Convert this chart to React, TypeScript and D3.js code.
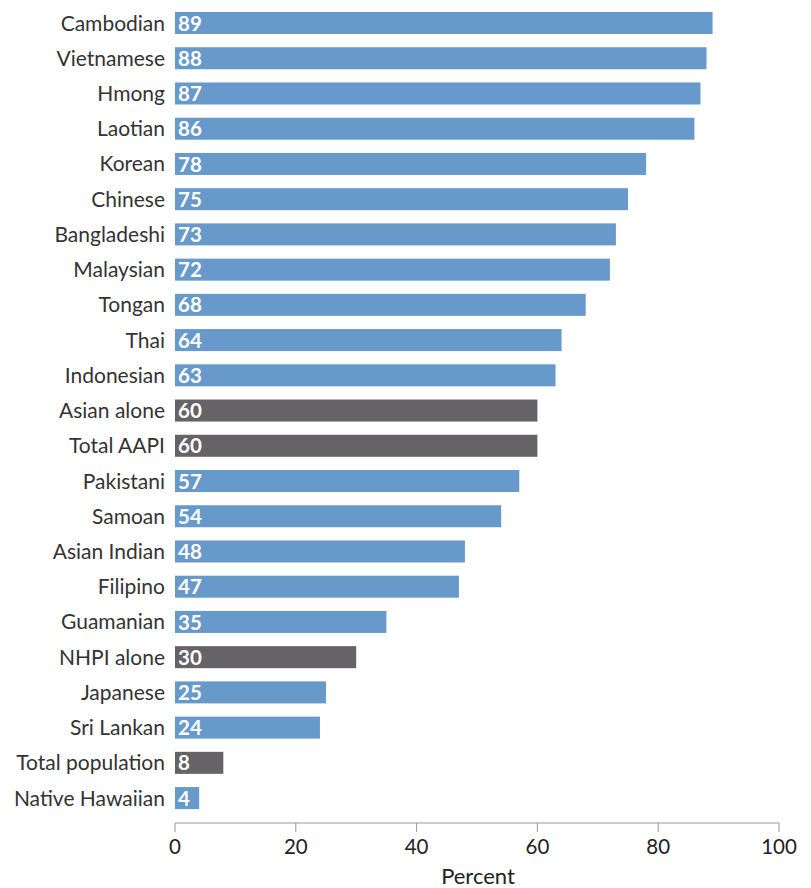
import React from "react";
import * as d3 from "d3";

const categories = [
  "Cambodian", "Vietnamese", "Hmong", "Laotian", "Korean", "Chinese", "Bangladeshi",
  "Malaysian", "Tongan", "Thai", "Indonesian", "Asian alone", "Total AAPI", "Pakistani",
  "Samoan", "Asian Indian", "Filipino", "Guamanian", "NHPI alone", "Japanese",
  "Sri Lankan", "Total population", "Native Hawaiian",
];
const values = [89, 88, 87, 86, 78, 75, 73, 72, 68, 64, 63, 60, 60, 57, 54, 48, 47, 35, 30, 25, 24, 8, 4];
const highlighted = ["Asian alone", "Total AAPI", "NHPI alone", "Total population"];
const xTicks = [0, 20, 40, 60, 80, 100];
const xTitle = "Percent";

const W = 811;
const H = 888;
const FONT = "Lato, 'Open Sans', sans-serif";

export default function App() {
  const x = d3.scaleLinear().domain([0, 100]).range([175, 779]);
  const y = d3
    .scaleBand<string>()
    .domain(categories)
    .range([5.4, 815.7])
    .paddingInner(0.375)
    .paddingOuter(0.1875);
  const axisY = 823;
  return (
    <svg
      width={W}
      height={H}
      style={{ position: "absolute", left: 0, top: 0, background: "#fff" }}
      fontFamily={FONT}
    >
      {categories.map((c, i) => {
        const yy = y(c)!;
        const bh = y.bandwidth();
        const hi = highlighted.includes(c);
        return (
          <g key={c}>
            <rect
              x={x(0)}
              y={yy}
              width={x(values[i]) - x(0)}
              height={bh}
              fill={hi ? "#656365" : "#679ACA"}
            />
            <text
              x={165}
              y={yy + bh / 2}
              dy="0.36em"
              textAnchor="end"
              fontSize={21}
              fill="#333"
            >
              {c}
            </text>
            <text
              x={x(0) + 3}
              y={yy + bh / 2}
              dy="0.37em"
              fontSize={20.5}
              fontWeight="bold"
              fill="#fff"
            >
              {values[i]}
            </text>
          </g>
        );
      })}
      <line x1={x(0)} x2={x(100)} y1={axisY} y2={axisY} stroke="#999" strokeWidth={1} />
      {xTicks.map((t) => (
        <g key={t}>
          <line x1={x(t)} x2={x(t)} y1={axisY} y2={axisY + 9} stroke="#999" strokeWidth={1} />
          <text x={x(t)} y={854} textAnchor="middle" fontSize={20.5} fill="#222">
            {t}
          </text>
        </g>
      ))}
      <text x={478} y={884} textAnchor="middle" fontSize={22} fill="#222">
        {xTitle}
      </text>
    </svg>
  );
}
